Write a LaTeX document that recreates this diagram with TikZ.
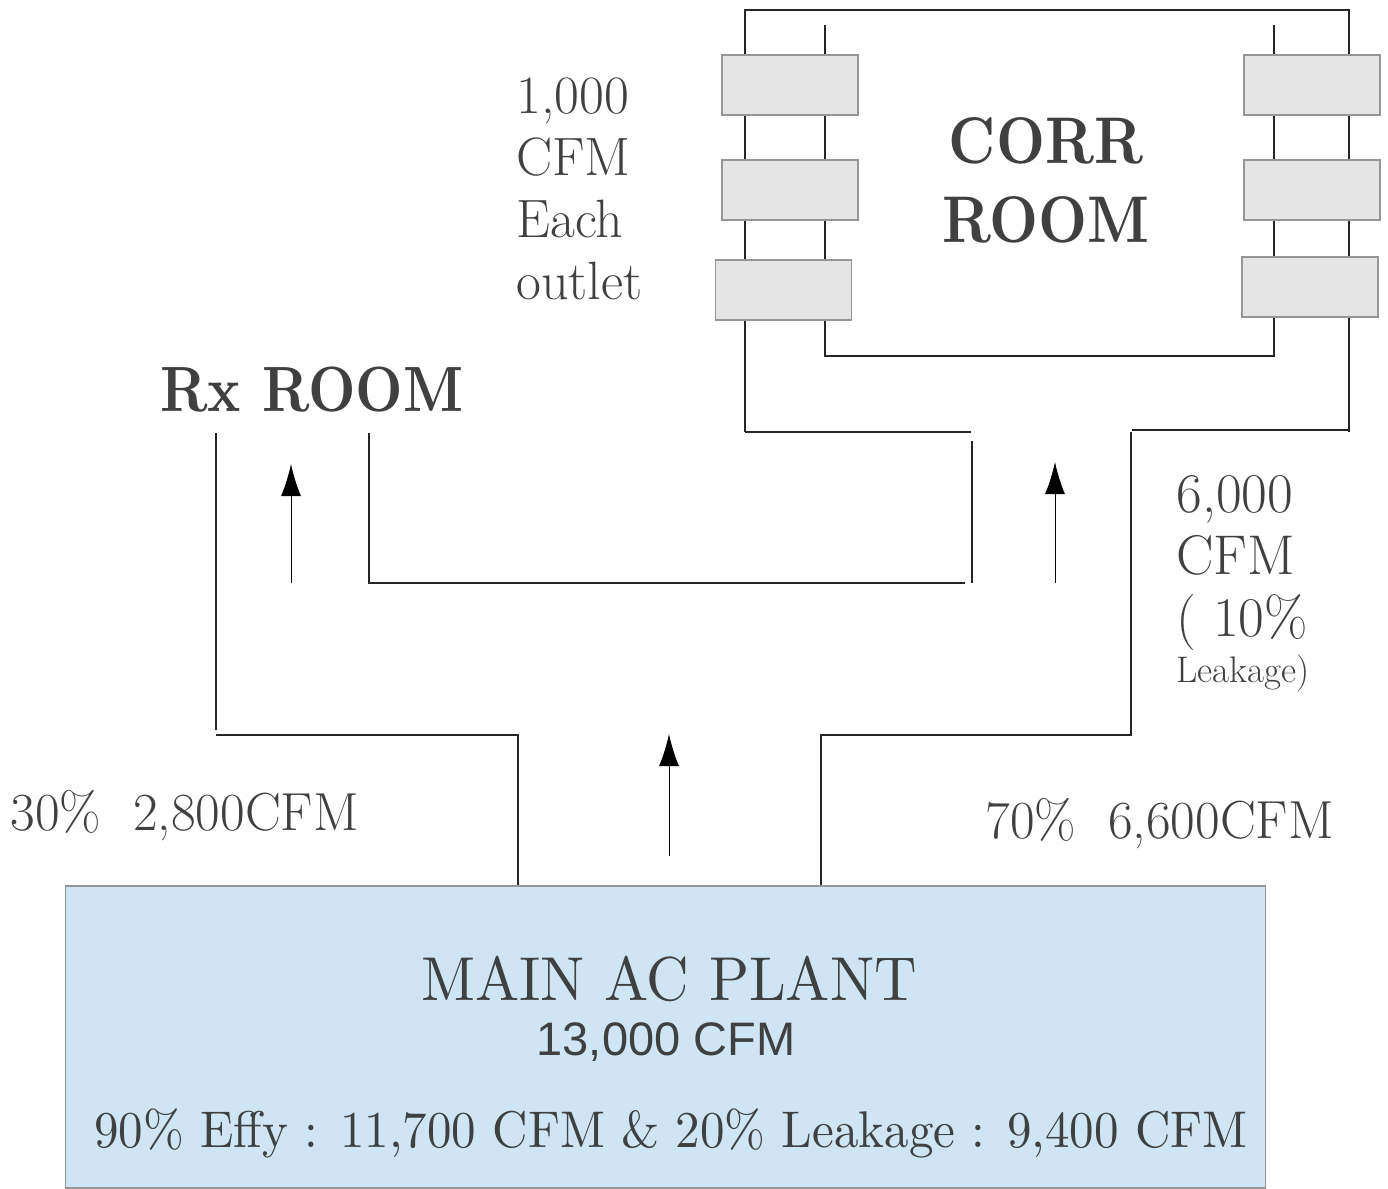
\documentclass[tikz,border=0pt]{standalone}
\usepackage{fontspec}
\usetikzlibrary{arrows.meta}
\newfontfamily\plantsans{Liberation Sans}
\newfontfamily\narrowserif{lmroman10-regular.otf}[FakeStretch=0.86,BoldFont=lmroman10-bold.otf]
\newfontfamily\plantserif{lmroman10-regular.otf}[FakeStretch=0.95]
\definecolor{inkgray}{RGB}{64,64,64}
\definecolor{plantblue}{RGB}{207,229,243}
\definecolor{outletgray}{RGB}{229,229,229}
\definecolor{edgegray}{RGB}{150,150,150}
\tikzset{
  duct/.style={black!85,line width=0.6pt},
  flow/.style={-{Latex[length=16pt,width=10pt]},line width=0.5pt},
  outlet/.style={draw=edgegray,fill=outletgray,line width=0.7pt,
                 minimum width=68pt,minimum height=30pt,inner sep=0pt},
  plant/.style={draw=edgegray,fill=plantblue,line width=0.7pt,
                minimum width=600pt,minimum height=151pt,inner sep=0pt},
  lab/.style={text=inkgray,inner sep=0pt,align=left,font=\fontsize{26.8}{31}\selectfont},
  room/.style={text=inkgray,inner sep=0pt,align=center,
               font=\narrowserif\bfseries\fontsize{33}{39.5}\selectfont},
  plantlab/.style={text=inkgray,inner sep=0pt,anchor=base},
}

\begin{document}
\begin{tikzpicture}[x=0.5pt,y=-0.5pt]
  \path[use as bounding box] (0,0) rectangle (1388,1189);

  % corridor room loop
  \draw[duct] (745,432) -- (745,10) -- (1349,10) -- (1349,432);
  \draw[duct] (745,432) -- (971,432);
  \draw[duct] (1132,430) -- (1349,430);
  \draw[duct] (825,25) -- (825,356) -- (1274,356) -- (1274,25);

  % supply ducts
  \draw[duct] (972,441) -- (972,583);
  \draw[duct] (369,433) -- (369,583) -- (965,583);
  \draw[duct] (216,433) -- (216,730);
  \draw[duct] (216,735) -- (518,735) -- (518,886);
  \draw[duct] (1131,432) -- (1131,735) -- (821,735) -- (821,886);

  % outlets
  \node[outlet] (outL1) at (790,85) {};
  \node[outlet] (outL2) at (790,190) {};
  \node[outlet] (outL3) at (783.5,290) {};
  \node[outlet] (outR1) at (1312,85) {};
  \node[outlet] (outR2) at (1312,190) {};
  \node[outlet] (outR3) at (1310,287) {};

  % air flow
  \coordinate (rxtail) at (291,583);
  \coordinate (rxhead) at (291,464);
  \coordinate (corrtail) at (1055,583);
  \coordinate (corrhead) at (1055,462);
  \coordinate (plantout) at (669,856);
  \coordinate (planthead) at (669,734);
  \draw[flow] (rxtail) -- (rxhead);
  \draw[flow] (corrtail) -- (corrhead);
  \draw[flow] (plantout) -- (planthead);

  % labels
  \node[room] (corr) at (1046,180) {CORR\\ROOM};
  \node[room,anchor=base west,font=\narrowserif\bfseries\fontsize{32}{38}\selectfont] (rx) at (160,411) {Rx ROOM};
  \node[lab,anchor=north west,font=\fontsize{27}{31}\selectfont] (each) at (516,77) {1,000\\CFM\\Each\\outlet};
  \node[lab,anchor=north west,font=\fontsize{28}{31}\selectfont] (corrsupply) at (1176,475)
    {6,000\\CFM\\( 10\%\\[-8pt]{\fontsize{18.5}{20}\selectfont Leakage)}};
  \node[lab,anchor=base west] (rxflow) at (10,830) {30\%\ \ 2,800CFM};
  \node[lab,anchor=base west] (corrflow) at (985,838) {70\%\ \ 6,600CFM};

  % plant
  \node[plant] (plant) at (665.5,1037) {};
  \node[plantlab,font=\plantserif\fontsize{31}{36}\selectfont] (plantname) at (669,1000) {MAIN AC PLANT};
  \node[plantlab,font=\plantsans\fontsize{23.5}{28}\selectfont] (plantcfm) at (666,1055) {13,000 CFM};
  \node[plantlab,font=\plantserif\fontsize{25.8}{30}\selectfont] (plantnote) at (671,1147)
    {90\% Effy : 11,700 CFM \& 20\% Leakage : 9,400 CFM};
\end{tikzpicture}
\end{document}
